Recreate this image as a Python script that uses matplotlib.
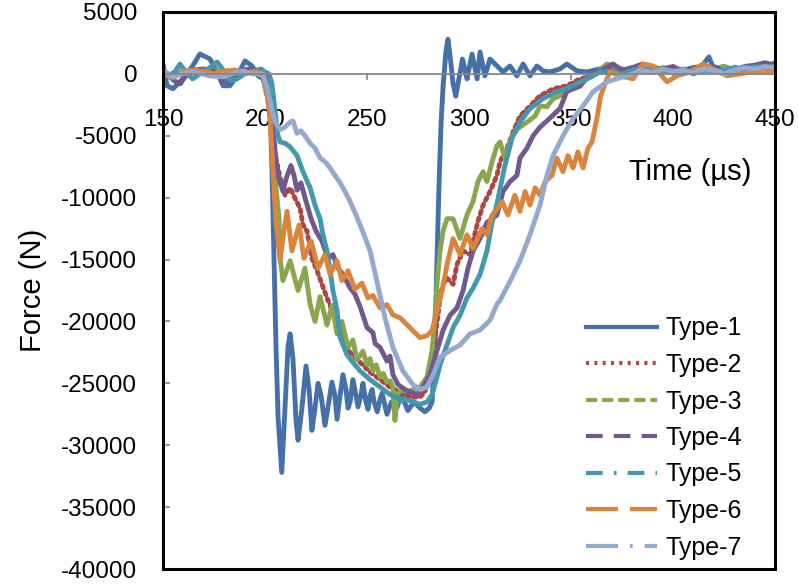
import matplotlib
matplotlib.use('Agg')
import matplotlib.pyplot as plt
from matplotlib.lines import Line2D
from matplotlib.patches import Rectangle

plt.rcParams['font.family'] = ['Liberation Sans', 'DejaVu Sans']
plt.rcParams['axes.unicode_minus'] = False
plt.rcParams['lines.scale_dashes'] = False

labels = ['Type-1', 'Type-2', 'Type-3', 'Type-4', 'Type-5', 'Type-6', 'Type-7']
colors = ['#4571A8', '#AA4643', '#89A54E', '#71588F', '#4198AF', '#DB843D', '#93A9CF']

x_ticks = [150, 200, 250, 300, 350, 400, 450]
y_ticks = [5000, 0, -5000, -10000, -15000, -20000, -25000, -30000, -35000, -40000]

# (time in us, force in N)
type1 = [(150, 800), (152, -960), (154.9, -1200), (158.3, -640), (161.5, 0), (164.5, 640), (168.1, 1610),
         (173, 1210), (176.5, 160), (179.4, -960), (182.8, -960), (186.3, -160), (190.2, 1050), (193.6, 640),
         (196.6, -160), (199, -400), (200.5, -1200), (202.5, -2800), (203.4, -7600), (204.4, -14800),
         (205.4, -22100), (206.4, -27700), (208.2, -32200), (209.8, -27000), (211.3, -22000), (212.3, -21000),
         (213.7, -23000), (215.2, -28000), (216.2, -29600), (218.1, -27000), (220.1, -23600), (221.6, -25500),
         (223, -28800), (224.5, -27000), (226, -25000), (227.5, -26000), (229.4, -28400), (231, -26800),
         (232.8, -24900), (234.3, -26000), (235.3, -27900), (236.8, -26000), (238.2, -24300), (239.7, -25500),
         (240.7, -27000), (241.7, -26500), (243.1, -24700), (244.5, -25900), (245.6, -26900), (247, -26000),
         (248, -25000), (249.5, -26500), (250.5, -27100), (251.5, -26000), (252.5, -25500), (253.5, -26500),
         (255, -27300), (256.4, -26300), (257.4, -25800), (259.8, -27500), (262, -26500), (264.5, -27000),
         (267, -26000), (270, -27200), (273, -26500), (276, -27000), (278.4, -27300), (280.5, -27000),
         (281.9, -26500), (283.3, -22000), (284.3, -15000), (285.3, -9000), (286.3, -4000), (287.3, -1000),
         (288.7, 1800), (289.7, 2800), (290.7, 1500), (292.2, -800), (293.5, -1800), (295.5, 0), (296.8, 1200),
         (299, -400), (301.5, 1600), (304, -400), (305.4, 1770), (307.8, -160), (310.3, 1200), (313.7, 640),
         (316.7, 160), (320.1, 640), (323.5, -160), (326.5, 800), (329.9, -160), (333.3, 640), (336.3, 240),
         (339.7, 160), (344.6, 400), (348, 800), (352.9, 240), (357.8, 160), (364, 400), (370, 300), (375, 200),
         (380, 500), (385, 300), (390, 600), (395, 300), (400, 400), (405, 300), (410, 500), (414, 600),
         (417.6, 1370), (420, 400), (425, 600), (430, 300), (435, 600), (440, 700), (445, 500), (450, 900)]

type2 = [(150, 100), (155, -200), (160, 200), (165, 300), (170, 100), (175, 0), (180, 200), (185, 300),
         (190, 100), (195, 200), (199, 0), (200.5, -1000), (202.5, -3500), (204.9, -6500), (207.4, -8400),
         (209.8, -9800), (212.3, -9200), (214.7, -10050), (217.2, -10850), (218.6, -12200), (220.6, -12700),
         (223, -14900), (225.5, -15900), (227.9, -17000), (230.4, -18100), (231.9, -18700), (236.8, -20900),
         (241.7, -22500), (246.6, -23300), (251.5, -24100), (256.4, -24700), (261.3, -25300), (266.2, -25700),
         (271.1, -26100), (276, -26100), (278.4, -25700), (280.9, -24100), (283.3, -21500), (285.8, -18100),
         (287.3, -17000), (289.2, -16500), (292.2, -17000), (294.1, -15400), (297.1, -14300), (300.5, -14600),
         (302, -13500), (304.4, -11900), (306.9, -10600), (310.3, -9500), (313.7, -8200), (315.2, -7100),
         (318.6, -6000), (321.6, -4700), (325, -3400), (329.9, -2600), (334.8, -1770), (341.2, -1210),
         (348, -960), (354.4, -400), (360.8, -160), (367.6, 640), (375, 300), (380, 400), (385, 600), (390, 300),
         (395, 500), (400, 300), (405, 400), (410, 200), (415, 500), (420, 400), (425, 300), (430, 500),
         (435, 400), (440, 600), (445, 500), (450, 400)]

type3 = [(150, 200), (155, -200), (160, 300), (165, 200), (170, 0), (175, 300), (180, 100), (185, 200),
         (190, 300), (195, 100), (199, -200), (200.5, -1500), (202, -2000), (203.4, -5000), (204.9, -8400),
         (206.9, -11700), (207.4, -14900), (208.8, -16700), (212.3, -15100), (216.2, -17500), (219.6, -15700),
         (222.1, -18600), (224.5, -20000), (227, -18000), (230.4, -20300), (232.8, -18700), (235.3, -21000),
         (237.7, -20000), (240.7, -22100), (243.1, -21500), (245.1, -23100), (248, -22400), (250, -23500),
         (251.5, -23000), (252.9, -24000), (254.5, -23500), (256.4, -24500), (258, -24200), (259.8, -24900),
         (261.3, -24800), (262.7, -25300), (263.7, -28000), (264.7, -26000), (266.2, -25600), (271.1, -25600),
         (276, -25300), (279.4, -24500), (281.9, -22350), (283.3, -19700), (284.3, -17000), (285.8, -14300),
         (287.3, -12700), (289.2, -11700), (292.2, -11700), (295.6, -13300), (299, -11400), (302, -10300),
         (304.4, -8700), (306.9, -7900), (308.8, -8700), (311.3, -7100), (313.7, -5800), (315.2, -5500),
         (317.6, -6800), (321.1, -5000), (324, -4400), (328.4, -3900), (332.4, -3400), (334.8, -2600),
         (338.2, -2650), (341.2, -2000), (344.6, -1770), (348, -1450), (352.9, -960), (357.8, -400),
         (360.8, -160), (367.6, 800), (375, 400), (380, 300), (385, 600), (390, 300), (395, 500), (400, 200),
         (405, 400), (410, 300), (415, 500), (420, 400), (425, 600), (430, 300), (435, 500), (440, 400),
         (445, 600), (450, 200)]

type4 = [(150, 300), (153, -200), (156, -600), (158.5, -800), (161, -200), (165, 300), (170, 400), (175, 200),
         (179.4, -560), (182, -640), (185, -100), (189, 300), (193, 400), (197, 200), (200, 0), (201.5, -1000),
         (203.4, -3500), (205.4, -7000), (206.9, -8500), (208.8, -9500), (210.3, -8500), (212.7, -7400),
         (214.2, -8200), (215.7, -9400), (217.6, -8800), (219.6, -10000), (222.6, -11700), (225, -12700),
         (227.9, -13500), (230.9, -14900), (233.3, -14600), (235.8, -15700), (238.2, -16200), (241.7, -17300),
         (244.1, -17800), (246.6, -18800), (248, -19500), (250, -20500), (252.9, -20900), (254, -21800),
         (256.4, -22100), (259.8, -23200), (261.3, -22800), (262.7, -24300), (265.2, -25100), (269.6, -25600),
         (274.5, -25900), (277.5, -25300), (280.9, -24300), (284.3, -22350), (287.3, -20700), (290.7, -19500),
         (294.1, -18900), (297.1, -17500), (299.5, -15700), (302, -14300), (305.4, -13300), (308.8, -12000),
         (313.7, -11400), (316.7, -9500), (320.1, -8700), (323.5, -8200), (325, -6800), (328.4, -6000),
         (331.4, -5000), (334.8, -4300), (338.2, -3800), (344.6, -2800), (348, -1400), (354.4, -1000),
         (357.8, -300), (364.2, 240), (370.6, 800), (375, 300), (380, 500), (385, 800), (390, 300), (395, 400),
         (400, 600), (405, 200), (410, 500), (415, 300), (420, 600), (425, 200), (430, 500), (435, 400),
         (440, 700), (445, 900), (450, 700)]

type5 = [(150, 400), (152.5, -200), (156, 200), (158.3, 800), (161, 200), (164.5, -400), (168, 0), (172, 400),
         (176.5, 960), (180, 200), (183, -560), (186.3, -400), (190, 0), (194, 200), (198, 400), (200, 160),
         (202, 0), (203.4, -800), (204.9, -3000), (206.4, -5000), (207.4, -5500), (209.8, -5600),
         (212.3, -5900), (215.7, -6600), (218.6, -7900), (222.1, -9200), (224.5, -10600), (227, -11700),
         (228.4, -13000), (230.4, -14300), (231.9, -15900), (233.3, -17500), (235.3, -19100), (236.8, -21300),
         (240.2, -22700), (244.1, -23500), (246.6, -24000), (251.5, -24700), (256.4, -25300), (261.3, -25900),
         (266.2, -26300), (271.1, -26400), (276, -26700), (279.4, -26500), (281.9, -25900), (284.3, -24500),
         (285.8, -23500), (289.2, -21900), (292.2, -20500), (295.6, -19500), (299, -18100), (302, -17300),
         (305.4, -16200), (308.8, -14300), (311.3, -12000), (313.7, -10500), (317.6, -7400), (321.1, -5200),
         (325, -3900), (329.9, -2800), (336.3, -2000), (343.1, -1450), (349.5, -1050), (357.8, -400),
         (364.2, 160), (370, 200), (375, 0), (380, 300), (385, 500), (390, 200), (395, 300), (400, 100),
         (405, 300), (410, 0), (415, 300), (420, 200), (425, 300), (430, 500), (435, 300), (440, 600),
         (445, 500), (450, 600)]

type6 = [(150, 0), (155, -300), (160, 200), (165, 300), (170, 200), (175, 0), (180, 200), (185, 300), (190, 0),
         (195, 200), (199, 0), (200.5, -1000), (202.5, -3500), (204, -8000), (205.4, -12000), (207.4, -15000),
         (209, -13000), (210.8, -11100), (213.2, -14300), (216.7, -12200), (219.1, -14900), (222.6, -13500),
         (226, -15700), (229.4, -14600), (231.9, -16200), (235.3, -15100), (237.7, -16700), (240.7, -15900),
         (244.1, -17400), (247.5, -16900), (250.5, -18100), (252.9, -17900), (256.4, -18900), (259.8, -18650),
         (262.7, -19460), (266.2, -19700), (269.6, -20260), (272.5, -20740), (276, -21310), (279.4, -21150),
         (281.9, -20740), (284.3, -19140), (286.8, -17530), (289.2, -15440), (292.2, -13300), (295.6, -14600),
         (299, -13000), (302, -14100), (306.4, -12500), (308.8, -13000), (311.3, -11400), (314.2, -10850),
         (316.2, -10300), (319.1, -11400), (322.5, -9800), (325, -11100), (327.5, -9500), (329.9, -10600),
         (332.4, -9200), (334.8, -9800), (337.3, -8700), (340.7, -8200), (343.1, -6800), (346.1, -7900),
         (348.5, -6600), (351, -7600), (353.4, -6300), (355.9, -7600), (358.3, -6000), (360.3, -5500),
         (362.7, -3600), (364.5, -1800), (367.6, -400), (369.1, 160), (374, -160), (380.4, -400), (385.3, 800),
         (390.2, 640), (397.1, -640), (402, -160), (408.3, 160), (414.7, 800), (421.6, 240), (426.5, -160),
         (432.8, 0), (441.2, 240), (447.5, 240), (450, 300)]

type7 = [(150, 240), (154.9, -240), (159, 0), (164.7, 160), (169, 0), (173, -160), (179, -240), (184, 0),
         (189.2, 240), (193.5, 0), (197, 0), (198.5, 0), (201, -1000), (203, -2600), (205, -3900), (207.4, -4500),
         (209.8, -4300), (212.3, -3900), (213.7, -3800), (215.7, -4800), (217.6, -4600), (219.6, -5000),
         (222.1, -5600), (224.5, -6000), (227, -6800), (229.4, -7100), (231.9, -7600), (234.3, -8200),
         (236.8, -8800), (239.2, -9500), (241.7, -10300), (244.1, -11200), (246.6, -12200), (249, -13200),
         (251.5, -14300), (254.9, -16800), (258.8, -19700), (262.7, -22100), (267.6, -24000), (272.5, -25100),
         (276, -25500), (279.4, -25300), (282.4, -24300), (285.8, -22900), (290.7, -22350), (295.6, -21900),
         (300.5, -21000), (305.4, -20700), (310.3, -19900), (313.7, -18600), (315.2, -18300), (320, -16800),
         (325, -15100), (329.9, -13000), (334.8, -10600), (338.2, -8200), (341.2, -6600), (346.1, -5000),
         (351, -3600), (355.9, -2600), (360.8, -1450), (367.6, -640), (375.5, -240), (380, 0), (385, 300),
         (390, 100), (395, 400), (400, 200), (405, 300), (410, 100), (415, 400), (420, 300), (425, 0),
         (430, 300), (435, 500), (440, 400), (445, 600), (450, 500)]

series = [type1, type2, type3, type4, type5, type6, type7]

# plot-line appearance (dense Excel dashes look solid) and legend dash patterns (points)
plot_styles = ['-', (0, (2, 3.2)), '-', '-', '-', '-', '-']
legend_styles = ['-', (0, (2.2, 3.8)), (0, (8, 3.6)), (0, (12, 8)), (0, (12, 8, 2, 8)),
                 (0, (23, 8.6)), (0, (23, 8.6, 2, 8.6))]

fig = plt.figure(figsize=(7.98, 5.87), dpi=100)
ax = fig.add_axes([163 / 798, 1 - 569 / 587, 612 / 798, 557 / 587])

for data, col, ls in zip(series, colors, plot_styles):
    ts = [p[0] for p in data]
    fs = [p[1] for p in data]
    ax.plot(ts, fs, color=col, lw=3.5, linestyle=ls, solid_joinstyle='round',
            solid_capstyle='round', dash_capstyle='round' if ls != '-' else 'butt')

ax.set_xlim(150, 450)
ax.set_ylim(-40000, 5000)
ax.set_xticks(x_ticks)
ax.set_yticks(y_ticks)
ax.set_xticklabels([str(v) for v in x_ticks])
ax.set_yticklabels([str(v) for v in y_ticks])

ax.spines['bottom'].set_position(('data', 0))
ax.spines['bottom'].set_color('#868686')
ax.spines['bottom'].set_linewidth(1.3)
ax.spines['top'].set_visible(False)
ax.spines['right'].set_visible(False)
ax.spines['left'].set_visible(False)
ax.add_patch(Rectangle((0, 0), 1, 1, transform=ax.transAxes, fill=False,
                       edgecolor='black', lw=2.2, clip_on=False, zorder=10))

ax.tick_params(axis='x', direction='out', length=4.3, width=1.2, color='#868686',
               labelsize=17.5, pad=21)
ax.tick_params(axis='y', direction='in', length=5, width=1.2, color='#868686',
               labelsize=17.5, pad=18.5)

ax.set_xlabel('Time (µs)', fontsize=21)
ax.xaxis.set_label_coords((690 - 163) / 612, (569 - 172) / 557)
ax.xaxis.label.set_verticalalignment('center')
ax.set_ylabel('Force (N)', fontsize=21)
ax.yaxis.set_label_coords((33 - 163) / 612, (569 - 290) / 557)
ax.yaxis.label.set_verticalalignment('center')

handles = [Line2D([0], [0], color=c, lw=3.0, linestyle=s, dash_capstyle='butt')
           for c, s in zip(colors, legend_styles)]
ax.legend(handles, labels, loc='center left', bbox_to_anchor=((586 - 163) / 612, (569 - 438) / 557),
          frameon=False, fontsize=18, handlelength=2.84, handletextpad=0.32, labelspacing=0.5,
          borderpad=0, borderaxespad=0)

fig.savefig('out.png', dpi=100)
